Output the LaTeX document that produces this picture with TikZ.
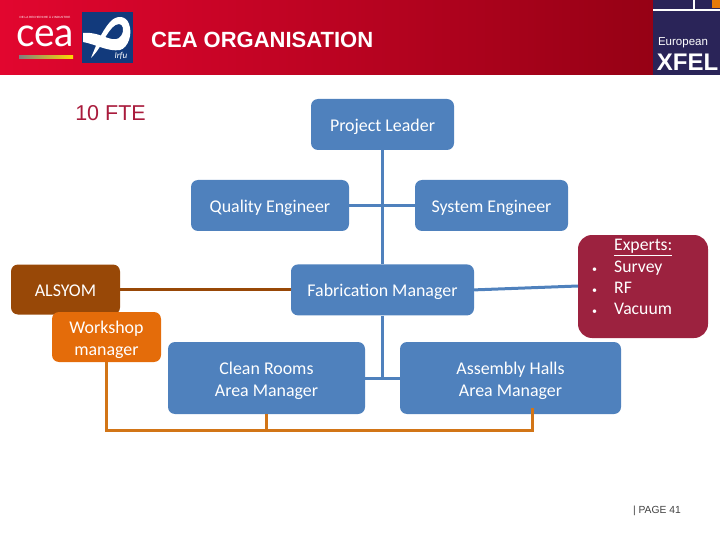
\documentclass[tikz,border=0pt]{standalone}
\usepackage{fontspec}
\setmainfont{Carlito}
\newfontfamily\arialfont{Liberation Sans}
\newfontfamily\logofont{Lato}
\usetikzlibrary{positioning}
\newcommand\droptext{\rule{0pt}{18pt}}
\definecolor{boxblue}{HTML}{4F81BD}
\definecolor{boxbrown}{HTML}{984807}
\definecolor{boxorange}{HTML}{E46C0A}
\definecolor{boxred}{HTML}{9C223F}
\definecolor{lineorange}{HTML}{D27517}
\definecolor{headred}{HTML}{E2062F}
\definecolor{headmid}{HTML}{D0002A}
\definecolor{headdark}{HTML}{8E0012}
\definecolor{xfelnavy}{HTML}{2A2458}
\definecolor{irfunavy}{HTML}{123A7C}
\definecolor{ftered}{HTML}{A91B3C}
\begin{document}
\begin{tikzpicture}
[x=1pt,y=-1pt,
 card/.style={draw=none,rounded corners=7pt,text=white,align=center,font=\fontsize{17.9}{22}\selectfont,inner sep=0pt,
   execute at begin node={\rule{0pt}{17pt}}},
 bluecard/.style={card,fill=boxblue},
 link/.style={draw=boxblue,line width=3pt},
 orangelink/.style={draw=lineorange,line width=3pt}]
\useasboundingbox (0,0) rectangle (720,540);
% header
\fill[left color=headred,middle color=headmid,right color=headdark] (0,0) rectangle (720,75);
\node[text=white,font=\fontsize{22}{24}\arialfont\bfseries,anchor=west,inner sep=0pt](title) at (151,40){CEA ORGANISATION};
\node[text=white,font=\fontsize{3}{4}\arialfont,inner sep=0pt](ceatop) at (45,17.5){DE LA RECHERCHE \`A L'INDUSTRIE};
\node[text=white,font=\fontsize{40}{40}\logofont,xscale=0.97,transform shape,inner sep=0pt,text height=20pt,text depth=0pt](cealogo) at (45,37){cea};
\fill[left color=gray,right color=yellow!70!orange] (19,55.5) rectangle (73,58.5);
\node[fill=irfunavy,minimum size=51pt,inner sep=0pt](irfu) at (107.5,37.5){};
\fill[white] (83,33) .. controls (92,32) and (100,35) .. (108,38) .. controls (114,40) and (118,40) .. (121,36)
  .. controls (125,30) and (123,24) .. (119,24) .. controls (114,24) and (110,30) .. (106,36)
  .. controls (102,44) and (97,52) .. (91,58) .. controls (95,48) and (101,32) .. (110,22)
  .. controls (116,15) and (126,15) .. (129,24) .. controls (133,34) and (128,48) .. (120,50)
  .. controls (108,52) and (95,44) .. (83,42) -- cycle;
\node[text=white,font=\fontsize{9}{9}\selectfont\itshape,inner sep=0pt](irfutext) at (121,56){Irfu};
\fill[xfelnavy] (653,0) rectangle (720,75);
\fill[white] (653,9.5) rectangle (720,11);
\fill[white] (693,0) rectangle (695,10);
\fill[boxorange!90!yellow] (712,0) rectangle (720,8);
\node[text=white,font=\fontsize{11.5}{12}\arialfont,inner sep=0pt](european) at (683,43){European};
\node[text=white,font=\fontsize{24}{24}\arialfont\bfseries,inner sep=0pt](xfel) at (687.5,62){XFEL};
% organisation
\node[text=ftered,font=\fontsize{21.5}{24}\arialfont,inner sep=0pt](fte) at (110.5,113){10 FTE};
\node[bluecard,minimum width=143pt,minimum height=51pt](leader) at (382.5,124.5){Project Leader};
\node[bluecard,minimum width=183pt,minimum height=51pt,below=114pt of leader](fabrication){Fabrication Manager};
\node[bluecard,minimum width=158pt,minimum height=51pt](quality) at (270,205.5){Quality Engineer};
\node[bluecard,minimum width=153pt,minimum height=51pt](system) at (491.5,205.5){System Engineer};
\node[card,fill=boxbrown,minimum width=109pt,minimum height=50pt](alsyom) at (65.5,289.5){\rule[-4pt]{0pt}{4pt}ALSYOM};
\node[card,fill=boxorange,minimum width=109pt,minimum height=50pt](workshop) at (106.5,337){\droptext Workshop\\manager};
\node[bluecard,minimum width=197pt,minimum height=72pt](clean) at (266.5,378){\droptext Clean Rooms\\Area Manager};
\node[bluecard,minimum width=221pt,minimum height=72pt](assembly) at (510.5,378){\droptext Assembly Halls\\Area Manager};
\node[card,fill=boxred,rounded corners=14pt,minimum width=130pt,minimum height=103pt](experts) at (643,286.5){};
\node[text=white,font=\fontsize{17.7}{21.4}\selectfont,inner sep=0pt,anchor=north west](expertslist) at (592,235.5){%
\begin{tabular}{@{}l@{\hspace{17pt}}l@{}}
 & \underline{Experts:}\\
{\fontsize{10}{10}\selectfont\textbullet} & Survey\\
{\fontsize{10}{10}\selectfont\textbullet} & RF\\
{\fontsize{10}{10}\selectfont\textbullet} & Vacuum
\end{tabular}};
\coordinate(junction) at (fabrication.south |- clean);
\coordinate(bottomleft) at (workshop.south |- 0,430);
\coordinate(bottommid) at (clean.south |- 0,430);
\coordinate(bottomright) at (532,430);
\coordinate(assemblyfoot) at (532,408);
\coordinate(expertsleft) at (578,286);
\draw[link] (leader) -- (fabrication);
\draw[link] (quality) -- (system);
\draw[link] (fabrication) -- (junction);
\draw[link] (clean) -- (assembly);
\draw[link] (fabrication.east) -- (expertsleft);
\draw[draw=boxbrown,line width=3pt] (alsyom.east) -- (alsyom.east -| fabrication.west);
\draw[orangelink] (workshop.south) -- (bottomleft) -- (bottomright) -- (assemblyfoot);
\draw[orangelink] (clean.south) -- (bottommid);
\node[text=black!75,font=\fontsize{10.3}{11}\arialfont,anchor=east,inner sep=0pt](page) at (681,510.5){| PAGE 41};
\end{tikzpicture}
\end{document}
